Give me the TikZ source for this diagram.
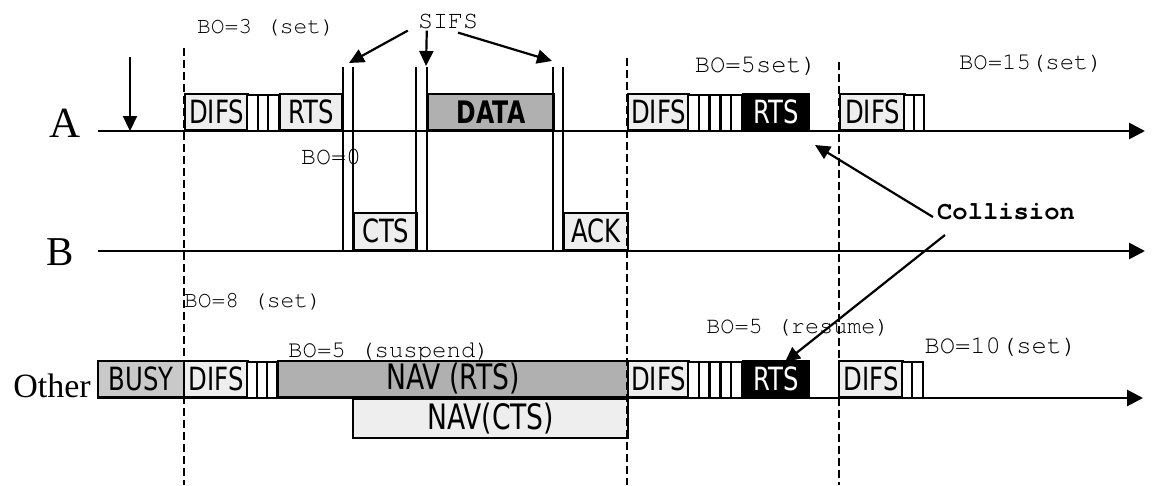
\documentclass[tikz,border=0pt]{standalone}
\usepackage{fontspec}
\usetikzlibrary{arrows.meta,calc}
\newfontfamily\lblfont[FakeStretch=0.76]{DejaVu Sans}
\newfontfamily\cmono{TeX Gyre Cursor}
\newfontfamily\serffont{Liberation Serif}
\newcommand\lbltxt{\lblfont\fontsize{32}{32}\selectfont}
\newcommand\lblbold{\lblfont\bfseries\fontsize{31}{31}\selectfont}
\newcommand\navtxt{\lblfont\fontsize{35}{35}\selectfont}
\newcommand\botxt[1]{\cmono\fontsize{#1}{#1}\selectfont}
\begin{document}
\begin{tikzpicture}[x=1pt,y=-1pt,
  axisline/.style={line width=2.8pt,-{Triangle[length=16pt,width=16pt]}},
  vdashed/.style={line width=2.5pt,dash pattern=on 8pt off 4pt},
  sifsline/.style={line width=2.6pt},
  arr/.style={line width=2.2pt,-{Triangle[length=15pt,width=14pt]}},
  box/.style={draw,line width=2.4pt,inner sep=0pt,anchor=south west,minimum height=36pt,font=\lbltxt},
  lightbox/.style={box,fill=gray!13},
  midbox/.style={box,fill=gray!42},
  darkbox/.style={box,fill=gray!62},
  blackbox/.style={box,fill=black,text=white},
  slot/.style={draw,line width=2.4pt,fill=white},
  bo/.style={inner sep=0pt,font=\botxt{24}},
  rowlabel/.style={inner sep=0pt,anchor=base}
]
\useasboundingbox (0,0) rectangle (1154,485);

% axes
\coordinate (a0) at (98,131); \coordinate (a1) at (1145,131);
\coordinate (b0) at (98,251); \coordinate (b1) at (1145,251);
\coordinate (o0) at (97,398); \coordinate (o1) at (1143,398);
\draw[axisline] (a0) -- (a1);
\draw[axisline] (b0) -- (b1);
\draw[axisline] (o0) -- (o1);

% row labels
\node[rowlabel,font=\serffont\fontsize{43}{43}\selectfont] (labA) at (65,137) {A};
\node[rowlabel,font=\serffont\fontsize{41}{41}\selectfont] (labB) at (60,265) {B};
\node[rowlabel,font=\serffont\fontsize{34}{34}\selectfont] (labO) at (52,397) {Other};

% row A
\node[lightbox,minimum width=63pt] (difsA1) at (184,131) {DIFS};
\foreach \a/\b in {247/258,258/268,268/279} \draw[slot] (\a,95) rectangle (\b,131);
\node[lightbox,minimum width=62pt] (rtsA1) at (279,131) {RTS};
\node[darkbox,minimum width=126pt,font=\lblbold] (data) at (427,131) {DATA};
\node[lightbox,minimum width=61pt] (difsA2) at (627,131) {DIFS};
\foreach \a/\b in {688/698.8,698.8/709.6,709.6/720.4,720.4/731.2,731.2/742} \draw[slot] (\a,95) rectangle (\b,131);
\node[blackbox,minimum width=66pt] (rtsA2) at (742,131) {RTS};
\node[lightbox,minimum width=65pt] (difsA3) at (839,131) {DIFS};
\foreach \a/\b in {904/914,914/924} \draw[slot] (\a,95) rectangle (\b,131);

% row B
\node[lightbox,minimum width=63pt,minimum height=37pt] (cts) at (353,251) {CTS};
\node[lightbox,minimum width=64pt,minimum height=37pt] (ack) at (563,251) {ACK};

% row Other
\node[midbox,minimum width=86pt] (busy) at (97,398) {BUSY};
\node[lightbox,minimum width=64pt] (difsO1) at (183,398) {DIFS};
\foreach \a/\b in {247/257,257/267,267/277} \draw[slot] (\a,362) rectangle (\b,398);
\node[darkbox,minimum width=350pt,font=\navtxt] (navrts) at (277,398) {NAV (RTS)};
\node[lightbox,anchor=north west,minimum width=275pt,minimum height=39pt,font=\navtxt] (navcts) at (352,398) {NAV(CTS)};
\node[lightbox,minimum width=61pt] (difsO2) at (627,398) {DIFS};
\foreach \a/\b in {688/698.8,698.8/709.6,709.6/720.4,720.4/731.2,731.2/742} \draw[slot] (\a,362) rectangle (\b,398);
\node[blackbox,minimum width=66pt] (rtsO) at (742,398) {RTS};
\node[lightbox,minimum width=64pt] (difsO3) at (838,398) {DIFS};
\foreach \a/\b in {902/912,912/923} \draw[slot] (\a,362) rectangle (\b,398);

% SIFS vertical lines
\foreach \x in {343,353,416,427,553,563} \draw[sifsline] (\x,67) -- (\x,251);

% dashed time lines
\draw[vdashed] (184,48) -- (184,485);
\draw[vdashed] (627,58) -- (627,485);
\draw[vdashed] (839,62) -- (839,485);

% texts
\node[bo,font=\botxt{23}] (bo3) at (266,28) {BO=3 (set)};
\node[bo,font=\botxt{25}] (sifs) at (448,21) {SIFS};
\node[bo,font=\botxt{25}] (bo0) at (331,157) {BO=0};
\node[bo,font=\botxt{25.5}] (bo5a) at (756,66) {BO=5set)};
\node[bo,font=\botxt{24}] (bo15) at (1031,64) {BO=15(set)};
\node[bo,font=\cmono\bfseries\fontsize{25.5}{25.5}\selectfont] (coll) at (1006,212) {Collision};
\node[bo,font=\botxt{23}] (bo8) at (253,302) {BO=8 (set)};
\node[bo,font=\botxt{24}] (bo5s) at (389,352) {BO=5 (suspend)};
\node[bo,font=\botxt{23.5}] (bo5r) at (798,328) {BO=5 (resume)};
\node[bo,font=\botxt{25.5}] (bo10) at (1001,347) {BO=10(set)};

% arrows
\coordinate (dstart) at (130,57);
\coordinate (dtip) at (130,131);
\draw[arr] (dstart) -- (dtip);
\coordinate (s1) at (349,63);
\coordinate (s2) at (426,66);
\coordinate (s3) at (552,61);
\draw[arr] ([shift={(-10,2)}]sifs.south west) -- (s1);
\draw[arr] ([shift={(9,2)}]sifs.south west) -- (s2);
\draw[arr] ([shift={(10,4)}]sifs.south) -- (s3);
\coordinate (c1) at (815,145);
\coordinate (c2) at (785,362);
\draw[arr] ([shift={(-4,5)}]coll.west) -- (c1);
\draw[arr] ([shift={(8,23)}]coll.west) -- (c2);
\end{tikzpicture}
\end{document}
